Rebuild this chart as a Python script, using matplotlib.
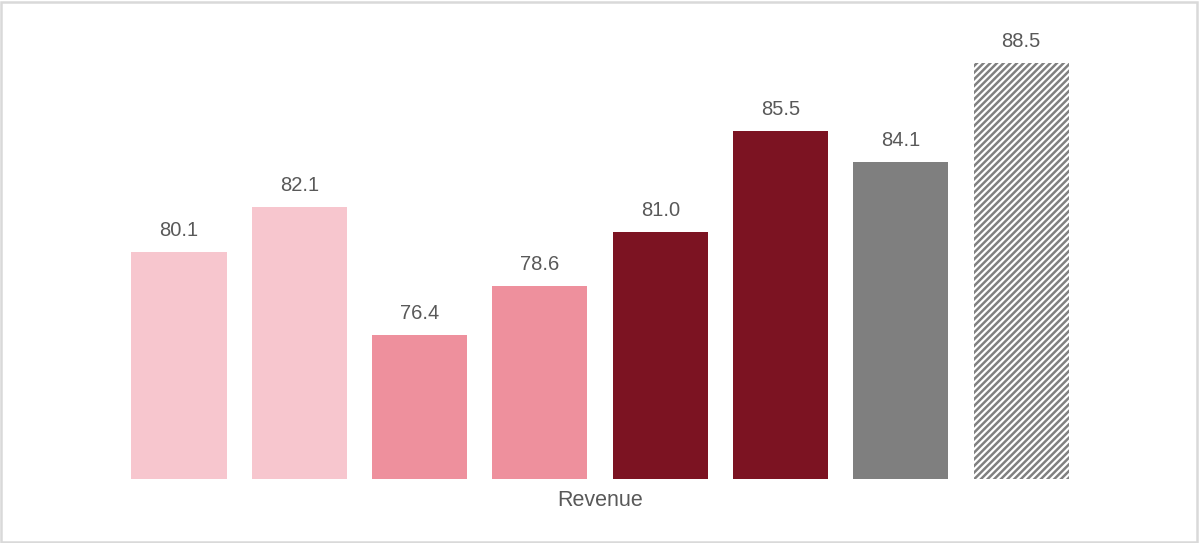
import numpy as np
import matplotlib
matplotlib.use("Agg")
import matplotlib.pyplot as plt
from matplotlib.patches import Rectangle

plt.rcParams["font.family"] = ["Liberation Sans", "DejaVu Sans"]
plt.rcParams["hatch.linewidth"] = 1.8

# ── data ─────────────────────────────────────────────────────────────────────
category = "Revenue"
values = [80.1, 82.1, 76.4, 78.6, 81.0, 85.5, 84.1, 88.5]
colors = ["#F7C6CE", "#F7C6CE", "#EE909D", "#EE909D",
          "#7C1322", "#7C1322", "#7F7F7F", "white"]
hatches = [None] * 7 + ["/////"]

W, H = 1199, 543
fig = plt.figure(figsize=(W / 100, H / 100), dpi=100)

# axes in pixel terms: x=0 at 179px, 120.3px per bar; baseline at 479px, y=90 at ~29px
px_per_x = 120.3
left_px, right_px = 60, 1140
top_px, bot_px = 29.4, 479
ax = fig.add_axes([left_px / W, 1 - bot_px / H,
                   (right_px - left_px) / W, (bot_px - top_px) / H])
x0 = -(179 - left_px) / px_per_x
ax.set_xlim(x0, x0 + (right_px - left_px) / px_per_x)
ax.set_ylim(70, 90)

x = np.arange(len(values))
bars = ax.bar(x, values, width=0.79, color=colors, linewidth=0)
for b, h in zip(bars, hatches):
    if h:
        b.set_hatch(h)
        b.set_edgecolor("#808080")
        b.set_linewidth(0)

for xi, v in zip(x, values):
    ax.annotate(f"{v:.1f}", (xi, v), xytext=(0, 8.5), textcoords="offset points",
                ha="center", va="bottom", fontsize=14.5, color="#595959")

ax.axis("off")
fig.text(600 / W, 1 - 501 / H, category, ha="center", va="center",
         fontsize=15.5, color="#595959")

# light frame around the whole figure
fig.patches.append(Rectangle((0.001, 0.002), 0.997, 0.995, transform=fig.transFigure,
                             fill=False, edgecolor="#D9D9D9", linewidth=1.8))

fig.savefig("out.png", dpi=100, facecolor="white")
